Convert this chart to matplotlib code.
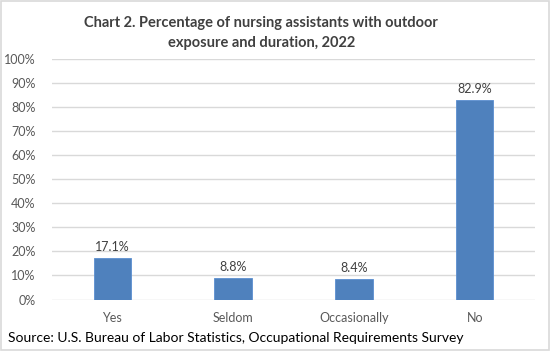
import matplotlib.pyplot as plt
from matplotlib.patches import Rectangle

categories = ["Yes", "Seldom", "Occasionally", "No"]
values = [17.1, 8.8, 8.4, 82.9]
yticks = [0, 10, 20, 30, 40, 50, 60, 70, 80, 90, 100]

plt.rcParams['font.family'] = ['Lato', 'DejaVu Sans']

fig = plt.figure(figsize=(5.51, 3.51), dpi=100)
ax = fig.add_axes([0.0944, 0.1467, 0.8766, 0.6853])

x = range(len(categories))
bars = ax.bar(x, values, width=0.31, color="#4F81BD", edgecolor="#5B8FD0",
              linewidth=0.6, zorder=3)
for xi, v in zip(x, values):
    ax.text(xi, v + 2.2, f"{v:.1f}%", ha="center", va="bottom",
            fontsize=9, color="#404040")

ax.set_xlim(-0.5, len(categories) - 0.5)
ax.set_ylim(0, 100)
ax.set_yticks(yticks)
ax.set_yticklabels([f"{t}%" for t in yticks])
ax.set_xticks(list(x))
ax.set_xticklabels(categories)
ax.tick_params(axis="both", length=0, labelsize=9, colors="#595959")
ax.tick_params(axis="x", pad=9)
ax.tick_params(axis="y", pad=12)
ax.yaxis.grid(True, color="#D9D9D9", linewidth=1, zorder=0)
for s in ax.spines.values():
    s.set_visible(False)

fig.text(0.474, 0.905, "Chart 2. Percentage of nursing assistants with outdoor\nexposure and duration, 2022",
         ha="center", va="center", fontsize=10.5, fontweight="bold",
         color="#404040", linespacing=1.55)
fig.text(0.014, 0.037, "Source: U.S. Bureau of Labor Statistics, Occupational Requirements Survey",
         ha="left", va="center", fontsize=10, color="black")

fig.patches.append(Rectangle((0.002, 0.003), 0.994, 0.993, transform=fig.transFigure,
                             fill=False, edgecolor="#D9D9D9", linewidth=1.2))

fig.savefig("out.png", dpi=100)
